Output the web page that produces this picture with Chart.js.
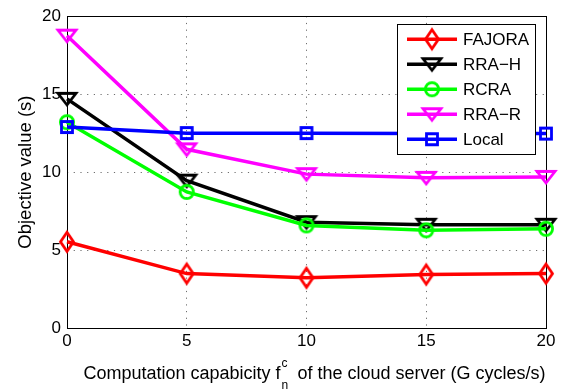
<!DOCTYPE html>
<html>
<head>
<meta charset="utf-8">
<script src="https://cdn.jsdelivr.net/npm/chart.js@4/dist/chart.umd.min.js"></script>
<style>
  html, body { margin: 0; padding: 0; background: #fff; }
  canvas { display: block; }
</style>
</head>
<body>
<canvas id="chart" width="574" height="392"></canvas>
<script>
  // values
  const capacity = [0, 5, 10, 15, 20];
  const seriesNames = ["FAJORA", "RRA\u2212H", "RCRA", "RRA\u2212R", "Local"];
  const fajora = [5.53, 3.49, 3.22, 3.43, 3.49];
  const rraH = [14.7, 9.45, 6.79, 6.62, 6.62];
  const rcra = [13.2, 8.73, 6.58, 6.27, 6.37];
  const rraR = [18.75, 11.46, 9.87, 9.63, 9.69];
  const local = [12.89, 12.5, 12.5, 12.47, 12.47];
  const yTicks = [0, 5, 10, 15, 20];
  const xTicks = [0, 5, 10, 15, 20];

  const FONT = "'Liberation Sans', Arial, Helvetica, sans-serif";

  // hollow MATLAB-like markers drawn on small canvases
  function makeMarker(shape, color) {
    const c = document.createElement("canvas");
    c.width = 28;
    c.height = 28;
    const g = c.getContext("2d");
    const m = 14;
    g.strokeStyle = color;
    g.lineWidth = 2.8;
    g.beginPath();
    if (shape === "diamond") {
      g.moveTo(m, m - 9.5);
      g.lineTo(m + 6.5, m);
      g.lineTo(m, m + 9.5);
      g.lineTo(m - 6.5, m);
      g.closePath();
    } else if (shape === "triangleDown") {
      g.moveTo(m - 9, m - 5.5);
      g.lineTo(m + 9, m - 5.5);
      g.lineTo(m, m + 6);
      g.closePath();
    } else if (shape === "circle") {
      g.arc(m, m, 6.6, 0, Math.PI * 2);
    } else {
      g.rect(m - 5.5, m - 5.5, 11, 11);
    }
    g.stroke();
    return c;
  }

  const seriesValues = [fajora, rraH, rcra, rraR, local];
  const colors = ["#ff0000", "#000000", "#00ff00", "#ff00ff", "#0000ff"];
  const markers = ["diamond", "triangleDown", "circle", "triangleDown", "square"].map(
    (s, i) => makeMarker(s, colors[i])
  );

  const datasets = seriesNames.map((name, i) => ({
    label: name,
    data: capacity.map((x, j) => ({ x: x, y: seriesValues[i][j] })),
    borderColor: colors[i],
    backgroundColor: colors[i],
    borderWidth: 3.5,
    pointStyle: markers[i],
    pointRadius: 10,
    pointHoverRadius: 10,
    order: seriesNames.length - i,
    clip: false,
    tension: 0,
  }));

  // box around the plot, drawn under the lines
  const frame = {
    id: "frame",
    beforeDatasetsDraw(chart) {
      const { ctx, chartArea: a } = chart;
      ctx.save();
      ctx.strokeStyle = "#000";
      ctx.lineWidth = 1;
      ctx.strokeRect(Math.round(a.left) + 0.5, Math.round(a.top) + 0.5,
        Math.round(a.right - a.left), Math.round(a.bottom - a.top));
      ctx.restore();
    },
  };

  // legend inside the axes, top right
  const insideLegend = {
    id: "insideLegend",
    afterDraw(chart) {
      const { ctx, chartArea: a } = chart;
      const right = a.right - 11;
      const left = right - 138;
      const top = a.top + 8;
      ctx.save();
      ctx.fillStyle = "#fff";
      ctx.fillRect(left, top, 138, 130);
      ctx.strokeStyle = "#000";
      ctx.lineWidth = 1;
      ctx.strokeRect(Math.round(left) + 0.5, Math.round(top) + 0.5, 138, 130);
      ctx.font = "17px " + FONT;
      ctx.textBaseline = "middle";
      seriesNames.forEach((name, i) => {
        const y = top + 15 + i * 25;
        ctx.strokeStyle = colors[i];
        ctx.lineWidth = 3.5;
        ctx.beginPath();
        ctx.moveTo(left + 10, y);
        ctx.lineTo(left + 60, y);
        ctx.stroke();
        const mk = markers[i];
        ctx.drawImage(mk, left + 35 - mk.width / 2, y - mk.height / 2);
        ctx.fillStyle = "#000";
        ctx.fillText(name, left + 66, y + 1);
      });
      ctx.restore();
    },
  };

  // x axis title with f^c_n
  const xTitle = {
    id: "xTitle",
    afterDraw(chart) {
      const ctx = chart.ctx;
      const part1 = "Computation capabicity f";
      const part2 = "of the cloud server (G cycles/s)";
      ctx.save();
      ctx.fillStyle = "#000";
      ctx.textBaseline = "alphabetic";
      ctx.font = "18px " + FONT;
      const w1 = ctx.measureText(part1).width;
      const w2 = ctx.measureText(part2).width;
      ctx.font = "12px " + FONT;
      const ws = ctx.measureText("c").width;
      const total = w1 + 1 + ws + 10 + w2;
      let x = 314.5 - total / 2;
      ctx.font = "18px " + FONT;
      ctx.fillText(part1, x, 379);
      x += w1 + 1;
      ctx.font = "12px " + FONT;
      ctx.fillText("c", x, 367);
      ctx.fillText("n", x, 389);
      x += ws + 10;
      ctx.font = "18px " + FONT;
      ctx.fillText(part2, x, 379);
      ctx.restore();
    },
  };

  const gridColor = (c) =>
    c.tick && (c.tick.value === 0 || c.tick.value === 20) ? "rgba(0,0,0,0)" : "#6e6e6e";

  const config = {
    type: "line",
    data: { datasets: datasets },
    options: {
      responsive: false,
      animation: false,
      events: [],
      layout: { padding: { top: 10, right: 28, bottom: 0, left: 0 } },
      plugins: {
        legend: { display: false },
        tooltip: { enabled: false },
      },
      scales: {
        x: {
          type: "linear",
          min: xTicks[0],
          max: xTicks[xTicks.length - 1],
          afterBuildTicks: (s) => { s.ticks = xTicks.map((v) => ({ value: v })); },
          afterFit: (s) => { s.height = 64; },
          ticks: { color: "#000", padding: 3, font: { size: 17, family: FONT }, maxRotation: 0 },
          grid: { color: gridColor, lineWidth: 1, drawTicks: false },
          border: { display: false, dash: [1.2, 5.5] },
        },
        y: {
          min: yTicks[0],
          max: yTicks[yTicks.length - 1],
          afterBuildTicks: (s) => { s.ticks = yTicks.map((v) => ({ value: v })); },
          afterFit: (s) => { s.width = 67; },
          ticks: { color: "#000", padding: 6, font: { size: 17, family: FONT } },
          grid: { color: gridColor, lineWidth: 1, drawTicks: false },
          border: { display: false, dash: [1.2, 5.5] },
          title: {
            display: true,
            text: "Objective value (s)",
            color: "#000",
            font: { size: 18.5, family: FONT },
            padding: { top: 15, bottom: 0 },
          },
        },
      },
    },
    plugins: [frame, insideLegend, xTitle],
  };

  new Chart(document.getElementById("chart"), config);
</script>
</body>
</html>
